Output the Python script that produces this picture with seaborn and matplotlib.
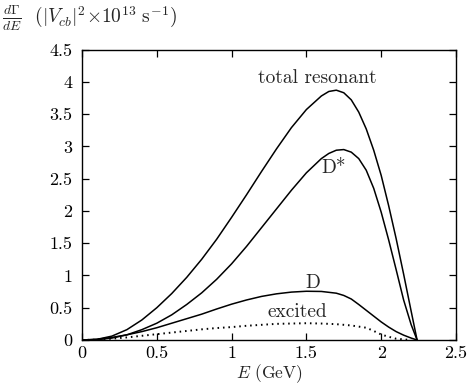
import numpy as np
import pandas as pd
import matplotlib
matplotlib.use("Agg")
import matplotlib.pyplot as plt
import seaborn as sns

# ---- data ----
E_total = [0, 0.1, 0.2, 0.3, 0.4, 0.5, 0.6, 0.7, 0.8, 0.9, 1.0, 1.1, 1.2, 1.3, 1.4, 1.5,
           1.6, 1.65, 1.7, 1.75, 1.8, 1.85, 1.9, 1.95, 2.0, 2.05, 2.1, 2.15, 2.2, 2.24]
total = [0, 0.01, 0.06, 0.16, 0.31, 0.50, 0.72, 0.97, 1.25, 1.56, 1.90, 2.25, 2.61, 2.96,
         3.29, 3.57, 3.78, 3.85, 3.87, 3.83, 3.72, 3.53, 3.27, 2.94, 2.55, 2.08, 1.57, 1.02,
         0.45, 0]

E_dstar = [0, 0.1, 0.2, 0.3, 0.4, 0.5, 0.6, 0.7, 0.8, 0.9, 1.0, 1.1, 1.2, 1.3, 1.4, 1.5,
           1.6, 1.65, 1.7, 1.75, 1.8, 1.85, 1.9, 1.95, 2.0, 2.05, 2.1, 2.15, 2.2, 2.24]
dstar = [0, 0.005, 0.03, 0.08, 0.16, 0.26, 0.39, 0.55, 0.73, 0.94, 1.18, 1.45, 1.74, 2.03,
         2.32, 2.59, 2.81, 2.89, 2.94, 2.95, 2.91, 2.81, 2.63, 2.35, 1.98, 1.55, 1.09, 0.62,
         0.24, 0]

E_d = [0, 0.1, 0.2, 0.3, 0.4, 0.5, 0.6, 0.7, 0.8, 0.9, 1.0, 1.1, 1.2, 1.3, 1.4, 1.5,
       1.6, 1.7, 1.75, 1.8, 1.85, 1.9, 1.95, 2.0, 2.05, 2.1, 2.15, 2.2, 2.24]
d = [0, 0.01, 0.04, 0.08, 0.13, 0.19, 0.26, 0.33, 0.40, 0.48, 0.555, 0.62, 0.675, 0.715,
     0.742, 0.755, 0.752, 0.725, 0.69, 0.635, 0.55, 0.46, 0.37, 0.28, 0.20, 0.13, 0.075,
     0.03, 0]

E_exc = [0, 0.1, 0.2, 0.3, 0.4, 0.5, 0.6, 0.7, 0.8, 0.9, 1.0, 1.1, 1.2, 1.3, 1.4, 1.5,
         1.6, 1.7, 1.8, 1.9, 1.95, 2.0, 2.05, 2.1, 2.2]
excited = [0, 0.005, 0.02, 0.04, 0.065, 0.09, 0.115, 0.14, 0.165, 0.185, 0.20, 0.22, 0.235,
           0.25, 0.255, 0.26, 0.255, 0.245, 0.225, 0.19, 0.14, 0.085, 0.05, 0.02, 0]

x_ticks = [0, 0.5, 1, 1.5, 2, 2.5]
x_ticklabels = ["0", "0.5", "1", "1.5", "2", "2.5"]
y_ticks = [0, 0.5, 1, 1.5, 2, 2.5, 3, 3.5, 4, 4.5]
y_ticklabels = ["0", "0.5", "1", "1.5", "2", "2.5", "3", "3.5", "4", "4.5"]

# ---- style ----
sns.set_style("ticks")
plt.rcParams["font.family"] = ["cmr10", "DejaVu Serif"]
plt.rcParams["mathtext.fontset"] = "cm"
plt.rcParams["axes.unicode_minus"] = False

fig = plt.figure(figsize=(4.67, 3.85), dpi=100)
ax = fig.add_axes([0.1756, 0.1169, 0.8008, 0.7545])

lw = 1.1
sns.lineplot(x=E_total, y=total, ax=ax, color="black", lw=lw, sort=False)
sns.lineplot(x=E_dstar, y=dstar, ax=ax, color="black", lw=lw, sort=False)
sns.lineplot(x=E_d, y=d, ax=ax, color="black", lw=lw, sort=False)
sns.lineplot(x=E_exc, y=excited, ax=ax, color="black", lw=1.4, sort=False,
             linestyle=(0, (0.8, 2.0)))

ax.set_xlim(0, 2.5)
ax.set_ylim(0, 4.5)
ax.set_xticks(x_ticks)
ax.set_xticklabels(x_ticklabels)
ax.set_yticks(y_ticks)
ax.set_yticklabels(y_ticklabels)
ax.tick_params(direction="in", length=5, width=0.9, top=True, right=True,
               labelsize=13, colors="black")
ax.tick_params(axis="x", pad=4)
ax.tick_params(axis="y", pad=7)
for s in ax.spines.values():
    s.set_linewidth(1.0)
    s.set_color("black")

fs = 14
ax.text(1.57, 4.06, "total resonant", fontsize=fs, ha="center", va="center")
ax.text(1.68, 2.66, "D*", fontsize=fs, ha="center", va="center")
ax.text(1.545, 0.88, "D", fontsize=fs, ha="center", va="center")
ax.text(1.44, 0.43, "excited", fontsize=fs, ha="center", va="center")

ax.set_xlabel(r"$E$ (GeV)", fontsize=12.5)
ax.xaxis.set_label_coords(0.5, -0.078)
ax.set_ylabel("")
fig.text(0.004, 0.953, r"$\frac{d\Gamma}{dE}$  $(|V_{cb}|^2{\times}10^{13}\ \mathrm{s}^{-1})$",
         fontsize=14, ha="left", va="center")

fig.savefig("out.png", dpi=100)
